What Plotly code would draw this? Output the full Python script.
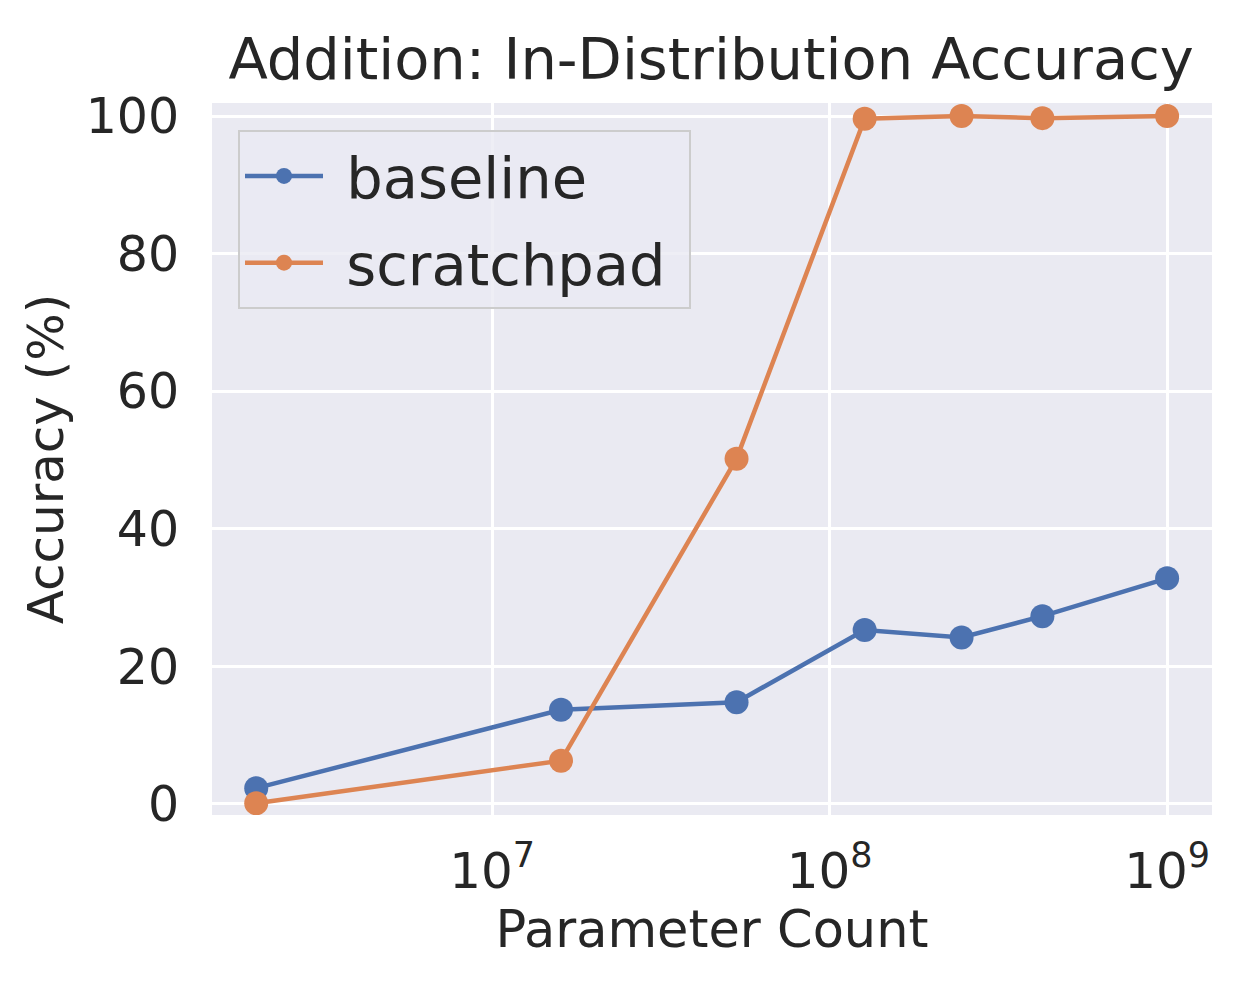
import plotly.graph_objects as go

# parameter counts of the model sizes
params = [2e6, 1.6e7, 5.3e7, 1.27e8, 2.46e8, 4.27e8, 1.0e9]

# in-distribution accuracy (%)
baseline = [2.3, 13.7, 14.8, 25.3, 24.2, 27.3, 32.8]
scratchpad = [0.1, 6.3, 50.2, 99.6, 100.0, 99.7, 100.0]

x_ticks = [1e7, 1e8, 1e9]
x_ticktext = ["10<sup>7</sup>", "10<sup>8</sup>", "10<sup>9</sup>"]
y_ticks = [0, 20, 40, 60, 80, 100]

FONT = "DejaVu Sans"
INK = "#262626"
BLUE = "#4C72B0"
ORANGE = "#DD8452"
NB = "\u00a0"  # padding in legend labels

fig = go.Figure()
fig.add_trace(go.Scatter(
    x=params, y=baseline, mode="lines+markers", name=NB + "baseline" + NB,
    legendgroup="a",
    line=dict(color=BLUE, width=4.5), marker=dict(size=24, color=BLUE),
))
fig.add_trace(go.Scatter(
    x=params, y=scratchpad, mode="lines+markers", name=NB + "scratchpad" + NB,
    legendgroup="b",
    line=dict(color=ORANGE, width=4.5), marker=dict(size=24, color=ORANGE),
))

# the page has an 8px body margin, so everything is offset by 8px
fig.update_layout(
    width=1250, height=986,
    margin=dict(l=204, r=46, t=95, b=179),
    paper_bgcolor="white",
    plot_bgcolor="#EAEAF2",
    font=dict(family=FONT, color=INK, size=49),
    title=dict(
        text="Addition: In-Distribution Accuracy",
        x=0.5625, xanchor="center", y=0.948, yanchor="middle",
        font=dict(size=57.5, color=INK),
    ),
    legend=dict(
        x=0.026, y=0.962, xanchor="left", yanchor="top",
        bgcolor="rgba(234,234,242,0.8)",
        bordercolor="#CCCCCC", borderwidth=2,
        font=dict(size=57.5, color=INK),
        itemwidth=78,
        tracegroupgap=9,
    ),
)

fig.update_xaxes(
    type="log", range=[6.170, 9.133],
    tickvals=x_ticks, ticktext=x_ticktext,
    showgrid=True, gridcolor="white", gridwidth=3,
    zeroline=False, showline=False,
    ticks="outside", ticklen=12, tickcolor="white",
    tickfont=dict(size=50, color=INK),
    title=dict(text="Parameter Count", font=dict(size=51, color=INK), standoff=6),
)
fig.update_yaxes(
    range=[-1.6, 101.9],
    tickvals=y_ticks,
    showgrid=True, gridcolor="white", gridwidth=3,
    zeroline=False, showline=False,
    ticks="outside", ticklen=22, tickcolor="white",
    tickfont=dict(size=49, color=INK),
    title=dict(text="Accuracy (%)", font=dict(size=50, color=INK), standoff=6),
)

fig.write_html("out.html")
